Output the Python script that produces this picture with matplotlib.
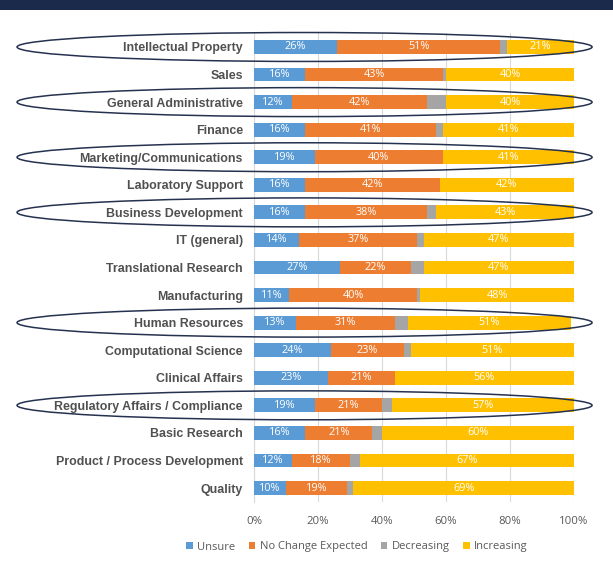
import matplotlib
matplotlib.use("Agg")
import matplotlib.pyplot as plt
from matplotlib.patches import Ellipse, Rectangle
import numpy as np

categories = ["Intellectual Property", "Sales", "General Administrative", "Finance",
              "Marketing/Communications", "Laboratory Support", "Business Development",
              "IT (general)", "Translational Research", "Manufacturing", "Human Resources",
              "Computational Science", "Clinical Affairs", "Regulatory Affairs / Compliance",
              "Basic Research", "Product / Process Development", "Quality"]
unsure = [26, 16, 12, 16, 19, 16, 16, 14, 27, 11, 13, 24, 23, 19, 16, 12, 10]
no_change = [51, 43, 42, 41, 40, 42, 38, 37, 22, 40, 31, 23, 21, 21, 21, 18, 19]
decreasing = [2, 1, 6, 2, 0, 0, 3, 2, 4, 1, 4, 2, 0, 3, 3, 3, 2]
increasing = [21, 40, 40, 41, 41, 42, 43, 47, 47, 48, 51, 51, 56, 57, 60, 67, 69]
series_names = ["Unsure", "No Change Expected", "Decreasing", "Increasing"]
highlighted = ["Intellectual Property", "General Administrative", "Marketing/Communications",
               "Business Development", "Human Resources", "Regulatory Affairs / Compliance"]
xticks = [0, 20, 40, 60, 80, 100]

colors = ["#5B9BD5", "#ED7D31", "#A5A5A5", "#FFC000"]

fig = plt.figure(figsize=(6.13, 5.71), dpi=100)
fig.patch.set_facecolor("white")
# top banner
fig.patches.append(Rectangle((0, 1 - 10/571), 1, 10/571, transform=fig.transFigure,
                             facecolor="#1B2A4A", edgecolor="none", zorder=0))

ax = fig.add_axes([254/613, 1 - 501.8/571, 320/613, (501.8 - 33.2)/571])
y = np.arange(len(categories))
data = [unsure, no_change, decreasing, increasing]
left = np.zeros(len(categories))
for i, (vals, name, c) in enumerate(zip(data, series_names, colors)):
    vals = np.array(vals, dtype=float)
    ax.barh(y, vals, left=left, height=0.5, color=c, label=name, zorder=3)
    if name != "Decreasing":
        for yi, l, v in zip(y, left, vals):
            if v > 0:
                ax.text(l + v/2, yi, f"{int(v)}%", ha="center", va="center",
                        color="white", fontsize=7.8, family="Open Sans", zorder=4)
    left += vals

ax.set_ylim(len(categories) - 0.5, -0.5)
ax.set_xlim(0, 100)
ax.set_xticks(xticks)
ax.set_xticklabels([f"{t}%" for t in xticks], color="#595959", fontsize=8.2, family="Open Sans")
ax.set_yticks(y)
ax.set_yticklabels(categories, color="#505050", fontsize=8.9, family="Liberation Sans",
                   fontweight="bold")
ax.tick_params(axis="y", length=0, pad=8)
ax.tick_params(axis="x", length=0, pad=10)
for s in ["top", "right", "bottom"]:
    ax.spines[s].set_visible(False)
ax.spines["left"].set_color("#D9D9D9")
ax.xaxis.grid(True, color="#D9D9D9", linewidth=0.8, zorder=0)
ax.set_axisbelow(True)

# ellipses around highlighted rows
for name in highlighted:
    idx = categories.index(name)
    e = Ellipse((15.8, idx), 179.7, 1.05, transform=ax.transData, fill=False,
                edgecolor="#25324F", linewidth=1.1, clip_on=False, zorder=5)
    ax.add_patch(e)

leg = fig.legend(loc="center", bbox_to_anchor=(357/613, 1 - 547/571), ncol=4,
                 frameon=False, handlelength=0.6, handleheight=0.6,
                 columnspacing=1.2, handletextpad=0.4, prop={"family": "Open Sans", "size": 8})
for t in leg.get_texts():
    t.set_color("#595959")

fig.savefig("out.png", dpi=100)
